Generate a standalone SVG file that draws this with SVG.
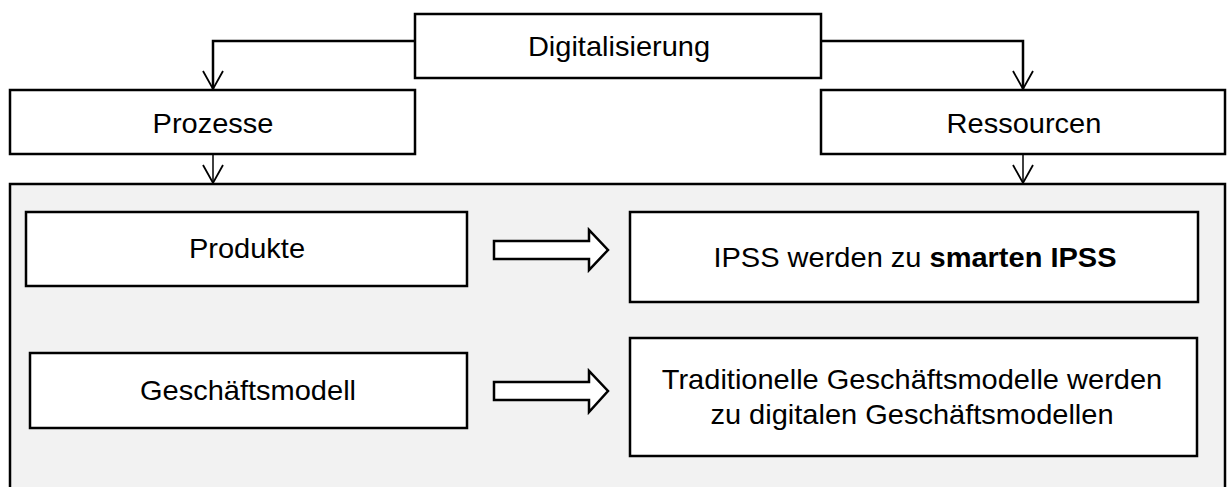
<svg xmlns="http://www.w3.org/2000/svg" width="1232" height="487" viewBox="0 0 1232 487">
<style>
.box{fill:#fff;stroke:#000;stroke-width:2.5}
.cont{fill:#f2f2f2;stroke:#000;stroke-width:2.5}
.t{font-family:"Liberation Sans",Arial,sans-serif;font-size:27px;fill:#000;text-anchor:middle}
.ln{fill:none;stroke:#000;stroke-width:2.5}
.thin{fill:none;stroke:#000;stroke-width:1.5}
.blk{fill:#fff;stroke:#000;stroke-width:2.5;stroke-linejoin:miter}
</style>
<defs>
<marker id="ah" markerWidth="20" markerHeight="22" refX="18" refY="10" orient="auto" markerUnits="userSpaceOnUse" viewBox="-1 -1 20 22" overflow="visible">
<path d="M0,0 L18,10 L0,20" fill="none" stroke="#000" stroke-width="1.8"/>
</marker>
</defs>
<g id="container"><rect class="cont" x="10" y="184" width="1215" height="320"/></g>
<g id="digitalisierung"><rect class="box" x="415" y="14" width="406" height="64"/><g transform="translate(619,56) scale(1.075,1)"><text class="t" x="0" y="0">Digitalisierung</text></g></g>
<g id="prozesse"><rect class="box" x="10" y="90" width="405" height="64"/><g transform="translate(213,133) scale(1.075,1)"><text class="t" x="0" y="0">Prozesse</text></g></g>
<g id="ressourcen"><rect class="box" x="821" y="90" width="404" height="64"/><g transform="translate(1024,133) scale(1.075,1)"><text class="t" x="0" y="0">Ressourcen</text></g></g>
<g id="produkte"><rect class="box" x="26" y="212" width="441" height="74"/><g transform="translate(247,258) scale(1.075,1)"><text class="t" x="0" y="0">Produkte</text></g></g>
<g id="geschaeftsmodell"><rect class="box" x="30" y="353" width="437" height="75"/><g transform="translate(248,400) scale(1.075,1)"><text class="t" x="0" y="0">Geschäftsmodell</text></g></g>
<g id="ipss"><rect class="box" x="630" y="212" width="568" height="90"/><g transform="translate(915,267) scale(1.075,1)"><text class="t" x="0" y="0">IPSS werden zu <tspan font-weight="bold">smarten IPSS</tspan></text></g></g>
<g id="traditionelle"><rect class="box" x="630" y="338" width="567" height="118"/><g transform="translate(912,389) scale(1.075,1)"><text class="t" x="0" y="0">Traditionelle Geschäftsmodelle werden</text><text class="t" x="0" y="35">zu digitalen Geschäftsmodellen</text></g></g>
<g id="connectors">
<path class="ln" d="M415,41 H213 V89" marker-end="url(#ah)"/>
<path class="ln" d="M821,41 H1023 V89" marker-end="url(#ah)"/>
<path class="thin" d="M213,154 V183" marker-end="url(#ah)"/>
<path class="thin" d="M1023,154 V183" marker-end="url(#ah)"/>
<path class="blk" d="M494,241 H589 V230 L608,250 L589,270 V259 H494 Z"/>
<path class="blk" d="M494,382 H589 V371 L608,391 L589,412 V400 H494 Z"/>
</g>
</svg>
